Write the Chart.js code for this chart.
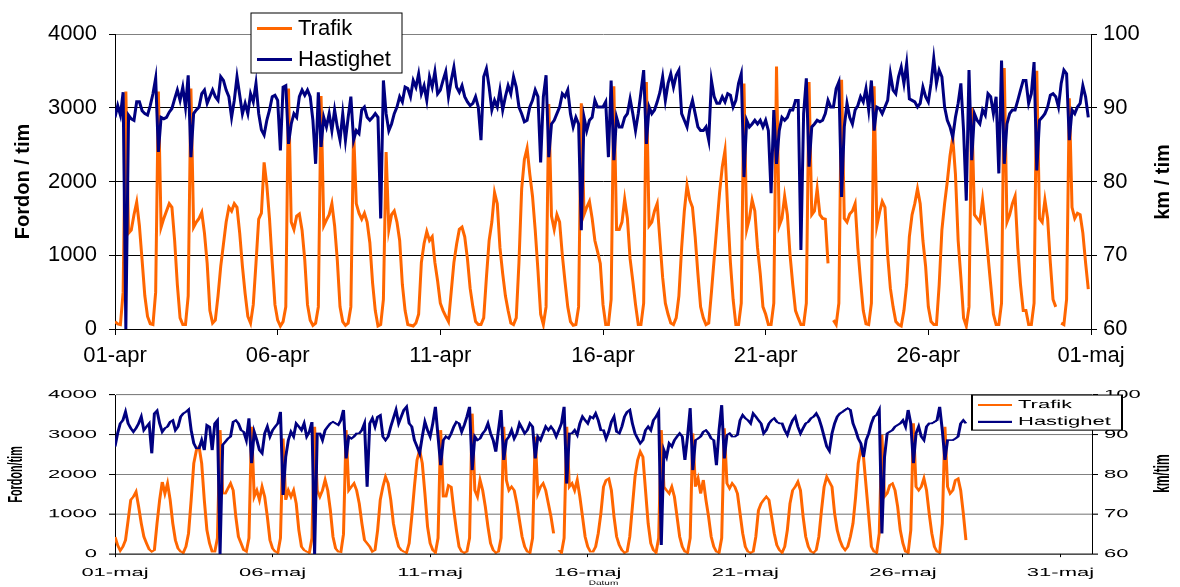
<!DOCTYPE html>
<html>
<head>
<meta charset="utf-8">
<script src="https://cdn.jsdelivr.net/npm/chart.js@4.4.1/dist/chart.umd.min.js"></script>
<style>
  html, body { margin: 0; padding: 0; background: #fff; }
  #wrap { position: relative; width: 1180px; height: 587px; overflow: hidden; }
  #apr { position: absolute; left: 0; top: 0; }
  #maj { position: absolute; left: 0; top: 378px; }
</style>
</head>
<body>
<div id="wrap">
  <canvas id="apr" width="1180" height="378" style="width:1180px;height:378px"></canvas>
  <canvas id="maj" width="1180" height="387" style="width:1180px;height:209px"></canvas>
</div>
<script>
// Tick labels along the date axes (one every fifth day)
const aprTicks = ['01-apr', '06-apr', '11-apr', '16-apr', '21-apr', '26-apr', '01-maj'];
const majTicks = ['01-maj', '06-maj', '11-maj', '16-maj', '21-maj', '26-maj', '31-maj'];

// Two-hourly values (00, 02, ... 22) – one row per day
// April: traffic (vehicles / hour)
const aprTrafik = [
  100, 70, 60, 500, 3220, 1300, 1340, 1550, 1720, 1400, 930, 450,
  170, 70, 60, 500, 3220, 1380, 1500, 1600, 1700, 1650, 1200, 600,
  150, 60, 60, 450, 3260, 1380, 1450, 1500, 1580, 1300, 890, 250,
  80, 120, 450, 850, 1150, 1450, 1650, 1600, 1700, 1650, 1300, 850,
  480, 170, 80, 330, 890, 1490, 1570, 2260, 1950, 1490, 890, 330,
  120, 40, 100, 300, 3260, 1450, 1350, 1530, 1560, 1340, 935, 330,
  120, 50, 80, 300, 3160, 1400, 1480, 1550, 1700, 1400, 935, 300,
  100, 50, 80, 300, 2700, 1700, 1570, 1490, 1570, 1450, 1170, 630,
  250, 40, 60, 400, 2400, 1350, 1550, 1600, 1450, 1200, 600, 250,
  60, 50, 40, 80, 200, 900, 1160, 1320, 1200, 1250, 900, 650,
  350, 250, 170, 100, 500, 900, 1150, 1350, 1380, 1250, 950, 550,
  300, 100, 60, 60, 150, 700, 1200, 1450, 1850, 1700, 1100, 750,
  450, 250, 80, 60, 150, 900, 1900, 2300, 2450, 2100, 1800, 1340,
  800, 200, 60, 300, 3050, 1530, 1350, 1550, 1450, 1000, 640, 300,
  100, 50, 60, 300, 3060, 1550, 1650, 1730, 1500, 1200, 1050, 890,
  330, 60, 60, 400, 3290, 1350, 1350, 1450, 1760, 1500, 950, 650,
  330, 60, 60, 350, 3350, 1400, 1450, 1600, 1700, 1200, 700, 350,
  200, 80, 60, 150, 450, 1100, 1600, 1950, 1750, 1650, 1250, 750,
  300, 150, 60, 80, 500, 950, 1400, 1850, 2200, 2420, 1600, 900,
  400, 60, 60, 350, 3330, 1350, 1500, 1750, 1600, 1100, 750, 300,
  200, 60, 60, 350, 3560, 1400, 1500, 1800, 1550, 1000, 600, 250,
  150, 60, 60, 350, 3350, 1550, 1600, 1900, 1550, 1500, 1490, 890,
  null, 120, 60, 350, 3380, 1500, 1450, 1560, 1600, 1700, 1100, 650,
  250, 70, 60, 350, 3290, 1400, 1580, 1730, 1650, 1000, 550, 300,
  100, 60, 40, 250, 600, 1250, 1550, 1700, 1900, 1700, 1200, 850,
  300, 100, 60, 60, 600, 1340, 1700, 2000, 2350, 2600, 2100, 1200,
  700, 150, 40, 300, 3000, 1550, 1500, 1450, 1750, 1400, 1000, 600,
  200, 60, 60, 350, 3540, 1450, 1550, 1700, 1800, 1100, 600, 250,
  250, 60, 60, 350, 3500, 1500, 1450, 1750, 1500, 900, 400, 300,
  null, 80, 60, 400, 3130, 1650, 1500, 1570, 1550, 1300, 900, 540
];

// April: mean speed (km / hour)
const aprHastighet = [
  88.7, 90.3, 89.0, 92.1, 60.0, 89.0, 88.5, 88.3, 90.8, 90.8, 89.6, 89.2,
  89.0, 90.3, 91.9, 94.0, 84.0, 88.7, 88.5, 88.7, 89.4, 89.9, 91.2, 92.4,
  91.0, 92.8, 90.1, 94.4, 83.3, 89.2, 89.7, 90.1, 91.9, 92.4, 90.6, 91.5,
  92.4, 91.5, 91.0, 94.2, 93.7, 92.4, 91.5, 88.7, 91.0, 94.2, 91.7, 89.2,
  90.6, 89.2, 91.9, 90.8, 93.3, 89.2, 87.0, 86.3, 88.3, 89.7, 91.5, 91.7,
  91.0, 84.2, 92.8, 93.0, 85.1, 87.8, 89.2, 88.7, 91.5, 92.4, 91.7, 92.4,
  91.5, 88.3, 82.4, 92.1, 84.7, 88.7, 87.4, 89.2, 86.9, 89.7, 87.4, 85.6,
  89.2, 85.6, 88.7, 91.5, 85.6, 86.9, 86.5, 89.7, 90.1, 88.7, 88.3, 88.7,
  89.2, 88.7, 75.0, 93.7, 89.2, 86.9, 87.8, 89.2, 90.1, 91.5, 90.8, 92.8,
  92.6, 91.5, 93.7, 92.8, 94.6, 91.9, 93.0, 91.0, 94.2, 92.8, 94.9, 91.9,
  92.4, 93.7, 94.9, 91.5, 93.7, 95.5, 92.8, 92.1, 93.0, 91.5, 90.8, 90.3,
  90.6, 91.5, 90.1, 85.6, 94.2, 95.3, 92.8, 89.7, 91.0, 90.1, 92.4, 89.7,
  91.5, 93.0, 91.9, 94.2, 92.8, 90.1, 89.2, 88.1, 88.3, 90.1, 91.0, 92.4,
  91.5, 82.6, 91.5, 94.4, 83.3, 87.8, 88.3, 89.2, 90.1, 91.9, 91.5, 92.4,
  89.2, 87.4, 88.7, 87.8, 73.4, 88.7, 86.9, 88.3, 88.7, 91.0, 90.1, 90.1,
  90.1, 90.8, 83.3, 93.7, 82.9, 88.7, 87.4, 87.4, 88.7, 89.2, 91.2, 89.2,
  86.9, 89.2, 92.1, 95.1, 85.1, 90.1, 89.2, 89.7, 90.8, 92.1, 94.2, 91.0,
  93.3, 94.6, 92.8, 94.4, 95.1, 89.2, 88.3, 87.4, 89.7, 91.0, 89.2, 87.4,
  86.9, 86.9, 87.4, 85.6, 93.7, 91.5, 90.6, 90.6, 91.5, 90.8, 91.9, 91.7,
  90.1, 91.0, 93.3, 94.6, 80.6, 88.3, 87.4, 87.8, 88.3, 87.8, 88.3, 87.4,
  88.3, 86.9, 78.4, 89.7, 82.4, 86.9, 88.7, 88.3, 88.7, 89.7, 89.7, 91.0,
  91.0, 70.7, 89.2, 94.0, 82.0, 87.4, 87.8, 88.3, 88.1, 88.3, 89.2, 91.0,
  90.1, 90.1, 92.6, 93.5, 77.9, 87.4, 90.6, 88.7, 87.8, 89.7, 90.3, 91.5,
  90.8, 92.6, 89.7, 93.7, 86.9, 90.1, 89.9, 89.2, 90.1, 91.0, 94.6, 92.4,
  91.9, 94.2, 95.5, 93.3, 96.0, 91.2, 91.0, 90.8, 90.1, 90.6, 92.8, 91.5,
  90.8, 93.3, 96.7, 93.3, 95.1, 94.2, 90.1, 88.3, 87.4, 86.0, 88.7, 90.6,
  93.3, 86.9, 77.4, 95.1, 82.9, 89.2, 88.3, 87.8, 89.7, 89.0, 91.9, 91.5,
  89.2, 91.5, 81.1, 96.4, 82.4, 87.8, 89.2, 89.7, 89.7, 91.0, 92.4, 93.7,
  93.7, 90.6, 91.9, 96.2, 81.5, 88.3, 88.7, 89.2, 90.1, 91.7, 91.9, 91.5,
  90.1, 93.3, 95.1, 94.6, 85.6, 89.7, 89.2, 90.1, 90.6, 93.0, 91.5, 88.7
];

// May: traffic (vehicles / hour), measurements end on 28 May
const majTrafik = [
  435, 225, 85, 185, 350, 850, 1360, 1440, 1565, 1190, 770, 435,
  270, 120, 60, 100, 770, 1360, 1815, 1520, 1775, 1360, 770, 350,
  140, 60, 35, 185, 520, 1360, 2280, 2610, 2700, 2280, 1360, 600,
  270, 60, 60, 400, 3115, 1520, 1520, 1650, 1775, 1600, 940, 435,
  270, 100, 60, 400, 3200, 1440, 1600, 1360, 1690, 1440, 940, 350,
  140, 60, 35, 400, 2900, 1360, 1600, 1440, 1600, 1270, 600, 185,
  100, 60, 35, 400, 3200, 1600, 1440, 1600, 1860, 1600, 1100, 435,
  140, 60, 50, 500, 3115, 1600, 1690, 1775, 1600, 1270, 770, 350,
  270, 185, 60, 100, 600, 1360, 1690, 1940, 1775, 1360, 770, 435,
  185, 100, 60, 35, 270, 940, 1690, 2360, 2610, 2280, 1520, 690,
  270, 100, 35, 400, 3115, 1440, 1440, 1730, 1690, 1100, 600, 185,
  60, 35, 60, 400, 3530, 1600, 1440, 1860, 1600, 1190, 690, 270,
  100, 35, 60, 400, 3200, 1860, 1600, 1690, 1600, 1270, 850, 435,
  185, 60, 35, 400, 2950, 1520, 1690, 1775, 1600, 1270, 940, 520,
  null, 100, 35, 400, 3200, 1690, 1775, 1600, 1860, 1440, 940, 435,
  185, 60, 60, 185, 520, 1020, 1690, 1860, 1900, 1600, 940, 435,
  225, 100, 35, 60, 435, 1190, 1940, 2360, 2570, 2440, 1600, 770,
  270, 100, 35, 400, 3115, 1690, 1600, 1520, 1690, 1440, 940, 435,
  185, 60, 35, 400, 3030, 1690, 1900, 1520, 1860, 1360, 940, 435,
  185, 60, 35, 400, 3155, 1775, 1650, 1775, 1690, 1520, 1020, 520,
  185, 60, 35, 60, 435, 1100, 1270, 1360, 1440, 1360, 940, 520,
  225, 100, 35, 185, 600, 1270, 1600, 1690, 1815, 1600, 940, 435,
  185, 60, 35, 100, 435, 1100, 1690, 1940, 1815, 1690, 1020, 600,
  350, 185, 100, 185, 435, 770, 1440, 2280, 2650, 2440, 1690, 940,
  185, 60, 35, 520, 3000, 1440, 1520, 1730, 1775, 1600, 1190, 600,
  270, 60, 35, 600, 3280, 1690, 1600, 1690, 1900, 1600, 1020, 520,
  185, 60, 35, 770, 3200, 1690, 1520, 1600, 1860, 1900, 1600, 1020,
  350
];

// May: mean speed (km / hour)
const majHastighet = [
  87.0, 90.3, 92.8, 93.6, 95.7, 92.8, 91.6, 90.7, 91.6, 92.8, 94.5, 91.1,
  92.0, 92.8, 85.3, 95.3, 96.0, 92.8, 90.7, 91.6, 92.0, 93.2, 93.6, 91.1,
  92.0, 94.5, 95.3, 95.7, 96.3, 91.1, 87.8, 86.5, 86.5, 88.6, 86.1, 92.4,
  92.0, 86.1, 92.8, 93.6, 60.0, 87.4, 88.2, 89.0, 89.5, 93.2, 93.6, 92.8,
  91.1, 90.7, 88.6, 94.1, 82.8, 90.7, 88.6, 86.1, 85.3, 90.3, 92.0, 89.5,
  91.1, 92.0, 92.8, 95.7, 74.8, 84.4, 88.6, 90.7, 89.5, 92.8, 92.0, 91.1,
  92.8, 89.5, 90.7, 93.2, 60.0, 90.3, 90.3, 88.6, 91.1, 92.0, 92.8, 93.2,
  92.8, 92.4, 93.6, 96.2, 84.0, 89.5, 89.0, 89.5, 90.3, 90.3, 91.1, 92.8,
  76.9, 92.8, 94.1, 92.0, 94.5, 94.9, 89.5, 88.6, 89.5, 92.0, 94.1, 96.2,
  92.8, 94.5, 96.2, 97.0, 92.8, 92.0, 88.6, 87.0, 85.3, 89.5, 93.2, 91.1,
  89.5, 92.8, 97.0, 89.5, 82.3, 88.6, 89.5, 89.0, 90.3, 92.0, 93.2, 92.8,
  90.7, 92.4, 94.5, 97.0, 81.1, 89.5, 88.6, 89.0, 90.3, 91.1, 92.8, 90.3,
  88.6, 85.7, 91.1, 96.2, 83.6, 88.6, 89.5, 91.1, 89.0, 90.3, 92.8, 91.6,
  90.3, 91.1, 92.8, 92.0, 84.0, 89.5, 88.6, 90.3, 92.0, 91.1, 92.0, 91.1,
  89.5, 91.1, 92.8, 97.0, 77.7, 90.3, 90.3, 91.1, 89.9, 92.8, 94.5, 93.6,
  92.8, 94.5, 94.1, 95.3, 93.6, 91.1, 91.1, 89.0, 90.7, 93.2, 94.5, 90.7,
  90.3, 92.0, 94.5, 95.7, 96.2, 92.8, 90.3, 89.0, 87.8, 88.6, 91.1, 92.0,
  91.1, 93.6, 94.5, 95.7, 62.3, 86.1, 84.4, 87.8, 87.0, 88.6, 89.5, 90.3,
  89.5, 83.6, 89.5, 96.6, 81.1, 88.6, 89.0, 89.5, 90.7, 91.1, 90.3, 89.0,
  88.6, 82.3, 91.1, 97.4, 84.0, 89.9, 90.3, 89.5, 89.5, 89.9, 93.6, 94.9,
  94.1, 93.6, 92.8, 95.3, 94.5, 93.6, 92.8, 90.3, 91.1, 92.8, 93.6, 94.1,
  93.2, 92.8, 92.8, 91.1, 89.9, 92.0, 93.6, 94.5, 92.0, 90.3, 91.6, 92.8,
  93.2, 94.1, 94.5, 95.3, 94.1, 92.0, 89.5, 87.0, 85.9, 90.3, 92.8, 94.5,
  95.3, 95.7, 96.2, 96.6, 96.2, 92.8, 91.1, 89.0, 87.8, 84.4, 88.6, 90.3,
  92.8, 94.5, 94.9, 96.2, 65.2, 84.4, 90.3, 90.7, 91.1, 92.0, 92.4, 92.8,
  93.6, 92.0, 96.2, 92.8, 82.8, 90.3, 92.0, 89.5, 88.6, 92.0, 92.8, 92.8,
  93.2, 93.6, 97.0, 91.1, 83.6, 88.6, 88.6, 88.6, 89.0, 89.5, 92.8, 93.6,
  92.8
];

const SAMPLES_PER_DAY = 12;
const DAYS_PER_TICK = 5;
const FONT = "'Liberation Sans', Arial, sans-serif";
const ORANGE = '#ff6600';
const NAVY = '#000080';

// x in days since the first of the month
const toPoints = (arr) => arr.map((v, i) => ({ x: i / SAMPLES_PER_DAY, y: v }));
const plain = (v) => String(v);

// Legend box and right-hand axis title drawn over the finished chart
const overlay = {
  id: 'overlay',
  afterDraw(chart, args, o) {
    const ctx = chart.ctx;
    if (o.rightTitle) {
      const t = o.rightTitle;
      ctx.save();
      ctx.translate(t.x, t.y);
      ctx.rotate(-Math.PI / 2);
      ctx.font = t.font;
      ctx.fillStyle = '#000';
      ctx.textAlign = 'center';
      ctx.textBaseline = 'middle';
      ctx.fillText(t.text, 0, 0);
      ctx.restore();
    }
    if (o.legend) {
      const L = o.legend;
      ctx.save();
      ctx.fillStyle = '#fff';
      ctx.fillRect(L.x, L.y, L.w, L.h);
      ctx.strokeStyle = '#000';
      ctx.lineWidth = L.border;
      ctx.strokeRect(L.x, L.y, L.w, L.h);
      chart.data.datasets.forEach((ds, i) => {
        const y = L.y + L.rows[i];
        ctx.strokeStyle = ds.borderColor;
        ctx.lineWidth = L.lineWidth;
        ctx.beginPath();
        ctx.moveTo(L.x + L.sample[0], y);
        ctx.lineTo(L.x + L.sample[1], y);
        ctx.stroke();
        ctx.fillStyle = '#000';
        ctx.font = L.font;
        ctx.textAlign = 'left';
        ctx.textBaseline = 'middle';
        ctx.fillText(ds.label, L.x + L.textX, y);
      });
      ctx.restore();
    }
  }
};

function makeChart(id, cfg) {
  const fixW = (w) => (s) => { s.width = w; };
  const fixH = (h) => (s) => { s.height = h; };
  return new Chart(document.getElementById(id), {
    type: 'line',
    data: {
      datasets: [
        { label: 'Trafik', data: toPoints(cfg.trafik), yAxisID: 'y', order: 1,
          borderColor: ORANGE, backgroundColor: ORANGE, borderWidth: cfg.lineW,
          pointRadius: 0, tension: 0, spanGaps: false },
        { label: 'Hastighet', data: toPoints(cfg.hastighet), yAxisID: 'y1', order: 0,
          borderColor: NAVY, backgroundColor: NAVY, borderWidth: cfg.lineW,
          pointRadius: 0, tension: 0, spanGaps: false }
      ]
    },
    options: {
      responsive: false,
      devicePixelRatio: 1,
      animation: false,
      events: [],
      layout: { padding: { top: cfg.padTop, left: 0, right: 0, bottom: 0 } },
      plugins: {
        legend: { display: false },
        tooltip: { enabled: false },
        overlay: { legend: cfg.legend, rightTitle: cfg.rightTitle }
      },
      scales: {
        x: {
          type: 'linear', min: 0, max: cfg.days,
          afterFit: fixH(cfg.xHeight),
          // one tick per label, every fifth day
          afterBuildTicks: (s) => { s.ticks = cfg.labels.map((_, i) => ({ value: i * DAYS_PER_TICK })); },
          border: { display: true, color: '#000', width: cfg.hLine },
          grid: { drawOnChartArea: false, drawTicks: true, tickLength: 6, color: '#000' },
          ticks: {
            autoSkip: false, maxRotation: 0, padding: cfg.xPad,
            color: '#000', font: { family: FONT, size: 22 },
            callback: (v) => cfg.labels[Math.round(v / DAYS_PER_TICK)]
          },
          title: cfg.xTitle
        },
        y: {
          position: 'left', min: 0, max: 4000,
          afterFit: fixW(115),
          border: { display: true, color: '#000', width: 1 },
          grid: {
            color: (c) => (c.tick && c.tick.value === 4000 ? '#808080' : cfg.gridColor),
            lineWidth: cfg.hLine, tickLength: 6, tickColor: '#000', tickWidth: cfg.hLine
          },
          ticks: { stepSize: 1000, padding: 12, color: '#000', font: { family: FONT, size: 22 },
                   callback: plain },
          title: {
            display: true, text: cfg.leftTitle, color: '#000',
            font: { family: FONT, size: 20, weight: 'bold' },
            padding: { top: cfg.leftTitlePad, bottom: 0 }
          }
        },
        y1: {
          position: 'right', min: 60, max: 100,
          afterFit: fixW(cfg.rightW),
          border: { display: true, color: '#000', width: 1 },
          grid: { drawOnChartArea: false, tickLength: 6, color: '#000', lineWidth: cfg.hLine },
          ticks: { stepSize: 10, padding: 6, color: '#000', font: { family: FONT, size: 22 },
                   callback: plain }
        }
      }
    },
    plugins: [overlay]
  });
}

// April (upper chart)
makeChart('apr', {
  trafik: aprTrafik, hastighet: aprHastighet, labels: aprTicks, days: 30,
  lineW: 3, hLine: 1, gridColor: '#000', padTop: 34, xHeight: 49, xPad: 8, rightW: 89,
  leftTitle: 'Fordon / tim', leftTitlePad: 11,
  xTitle: { display: false },
  rightTitle: { text: 'km / tim', x: 1163, y: 182, font: `bold 20px ${FONT}` },
  legend: { x: 251, y: 13, w: 151, h: 60, rows: [15.5, 46.5], sample: [6, 41], textX: 47,
            lineWidth: 3, border: 1, font: `22px ${FONT}` }
});

// May (lower chart, drawn tall and shown vertically compressed)
makeChart('maj', {
  trafik: majTrafik, hastighet: majHastighet, labels: majTicks, days: 31,
  lineW: 3, hLine: 2, gridColor: '#808080', padTop: 31, xHeight: 61, xPad: 16, rightW: 88,
  leftTitle: 'Fordon/tim', leftTitlePad: 4,
  xTitle: { display: true, text: 'Datum', color: '#000', font: { family: FONT, size: 10 },
            padding: { top: 0, bottom: 1 } },
  rightTitle: { text: 'km/tim', x: 1163, y: 177, font: `bold 22px ${FONT}` },
  legend: { x: 972, y: 31.5, w: 150, h: 65, rows: [18.5, 49.5], sample: [6, 40], textX: 46,
            lineWidth: 4, border: 2, font: `22px ${FONT}` }
});
</script>
</body>
</html>
